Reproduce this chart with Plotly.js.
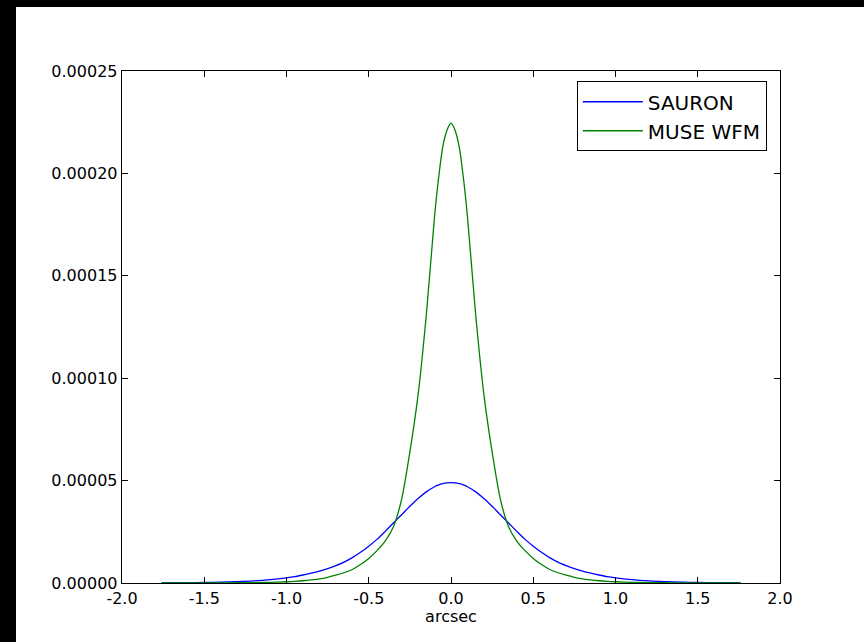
<!DOCTYPE html>
<html>
<head>
<meta charset="utf-8">
<script src="https://cdn.plot.ly/plotly-3.0.1.min.js"></script>
<style>
  html, body { margin: 0; padding: 0; background: #fff; width: 864px; height: 642px; overflow: hidden; }
  #stripTop { position: absolute; left: 0; top: 0; width: 864px; height: 7px; background: #000; }
  #stripLeft { position: absolute; left: 0; top: 0; width: 16px; height: 642px; background: #000; }
  #chart { position: absolute; left: 16px; top: 7px; width: 848px; height: 635px; background: #fff; }
</style>
</head>
<body>
<div id="stripTop"></div>
<div id="stripLeft"></div>
<div id="chart"></div>
<script>
// arcsec positions
const arcsec = [-1.76,-1.7,-1.6,-1.5,-1.4,-1.3,-1.2,-1.1,-1.0,-0.95,-0.9,-0.85,-0.8,-0.75,-0.7,-0.65,-0.6,-0.55,-0.5,-0.45,-0.4,-0.35,-0.3,-0.25,-0.2,-0.15,-0.1,-0.075,-0.05,-0.025,
  0,
  0.025,0.05,0.075,0.1,0.15,0.2,0.25,0.3,0.35,0.4,0.45,0.5,0.55,0.6,0.65,0.7,0.75,0.8,0.85,0.9,0.95,1.0,1.1,1.2,1.3,1.4,1.5,1.6,1.7,1.76];

// SAURON PSF
const sauron = [0.010e-5,0.012e-5,0.018e-5,0.027e-5,0.042e-5,0.065e-5,0.10e-5,0.16e-5,0.25e-5,0.31e-5,0.39e-5,0.48e-5,0.58e-5,0.70e-5,0.85e-5,1.02e-5,1.24e-5,1.50e-5,1.80e-5,2.13e-5,2.52e-5,2.93e-5,3.33e-5,3.75e-5,4.13e-5,4.45e-5,4.70e-5,4.79e-5,4.85e-5,4.89e-5,
  4.90e-5,
  4.89e-5,4.85e-5,4.79e-5,4.70e-5,4.45e-5,4.13e-5,3.75e-5,3.33e-5,2.93e-5,2.52e-5,2.13e-5,1.80e-5,1.50e-5,1.24e-5,1.02e-5,0.85e-5,0.70e-5,0.58e-5,0.48e-5,0.39e-5,0.31e-5,0.25e-5,0.16e-5,0.10e-5,0.065e-5,0.042e-5,0.027e-5,0.018e-5,0.012e-5,0.010e-5];

// MUSE WFM PSF
const museWfm = [0.0015e-5,0.002e-5,0.003e-5,0.005e-5,0.008e-5,0.012e-5,0.02e-5,0.035e-5,0.06e-5,0.08e-5,0.11e-5,0.15e-5,0.20e-5,0.28e-5,0.38e-5,0.50e-5,0.66e-5,0.90e-5,1.20e-5,1.58e-5,2.05e-5,2.75e-5,4.10e-5,6.40e-5,9.20e-5,13.1e-5,17.9e-5,19.8e-5,21.3e-5,22.1e-5,
  22.45e-5,
  22.1e-5,21.3e-5,19.8e-5,17.9e-5,13.1e-5,9.20e-5,6.40e-5,4.10e-5,2.75e-5,2.05e-5,1.58e-5,1.20e-5,0.90e-5,0.66e-5,0.50e-5,0.38e-5,0.28e-5,0.20e-5,0.15e-5,0.11e-5,0.08e-5,0.06e-5,0.035e-5,0.02e-5,0.012e-5,0.008e-5,0.005e-5,0.003e-5,0.002e-5,0.0015e-5];

const seriesNames = ["SAURON", "MUSE WFM"];
const xTickVals = [-2.0,-1.5,-1.0,-0.5,0.0,0.5,1.0,1.5,2.0];
const xTickLabels = ["-2.0","-1.5","-1.0","-0.5","0.0","0.5","1.0","1.5","2.0"];
const yTickVals = [0, 0.00005, 0.00010, 0.00015, 0.00020, 0.00025];
const yTickLabels = ["0.00000","0.00005","0.00010","0.00015","0.00020","0.00025"];

const font = "DejaVu Sans, sans-serif";

const traces = [
  { x: arcsec, y: sauron, name: seriesNames[0], type: "scatter", mode: "lines",
    line: { color: "#0000ff", width: 1.3, shape: "spline", smoothing: 0.8 } },
  { x: arcsec, y: museWfm, name: seriesNames[1], type: "scatter", mode: "lines",
    line: { color: "#008000", width: 1.3, shape: "spline", smoothing: 0.8 } }
];

const axisCommon = {
  showgrid: false, zeroline: false, showline: true, linecolor: "#000", linewidth: 1.3,
  mirror: "ticks", ticks: "inside", ticklen: 6, tickwidth: 1, tickcolor: "#000",
  tickfont: { family: font, size: 16, color: "#000" }
};

const layout = {
  width: 848, height: 635,
  margin: { l: 106, r: 84, t: 64, b: 59 },
  paper_bgcolor: "#fff", plot_bgcolor: "#fff",
  showlegend: true,
  legend: {
    x: 0.98, y: 0.98, xanchor: "right", yanchor: "top",
    bgcolor: "#fff", bordercolor: "#000", borderwidth: 1,
    font: { family: font, size: 20, color: "#000" },
    itemwidth: 60,
    tracegroupgap: 0
  },
  xaxis: Object.assign({}, axisCommon, {
    range: [-2, 2], tickvals: xTickVals, ticktext: xTickLabels,
    title: { text: "arcsec", font: { family: font, size: 16, color: "#000" }, standoff: 2 }
  }),
  yaxis: Object.assign({}, axisCommon, {
    range: [0, 0.00025], tickvals: yTickVals, ticktext: yTickLabels
  })
};

Plotly.newPlot("chart", traces, layout, { displayModeBar: false, staticPlot: true });
</script>
</body>
</html>
